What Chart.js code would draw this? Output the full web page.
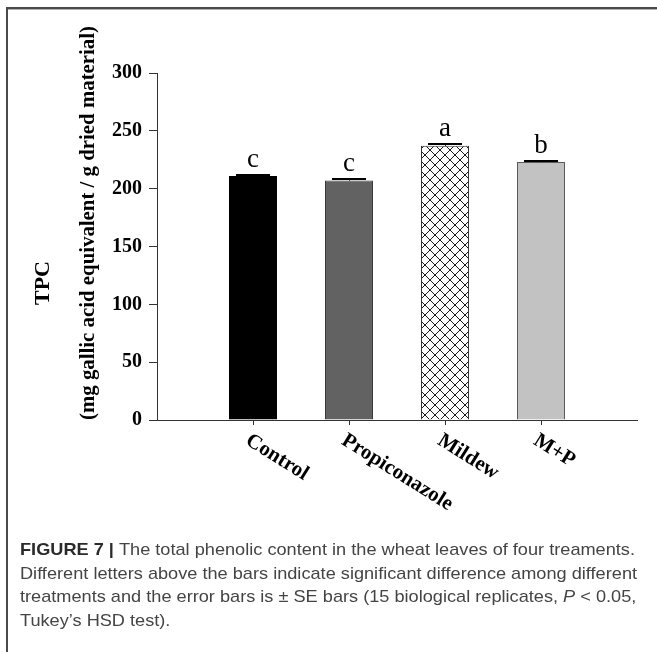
<!DOCTYPE html>
<html>
<head>
<meta charset="utf-8">
<script src="https://cdn.jsdelivr.net/npm/chart.js@4.4.1/dist/chart.umd.min.js"></script>
<style>
  html, body { margin: 0; padding: 0; background: #fff; overflow: hidden; }
  #wrap { position: relative; width: 657px; height: 652px; }
</style>
</head>
<body>
<div id="wrap"><canvas id="tpc" width="657" height="652"></canvas></div>
<script>
// Total phenolic content per treatment (mg GAE / g dried material)
const treatments = ['Control', 'Propiconazole', 'Mildew', 'M+P'];
const tpcMeans = [211, 207, 237, 223];
const tpcSE = [1, 1, 2, 1];
const groupLetters = ['c', 'c', 'a', 'b'];
const yTickValues = [0, 50, 100, 150, 200, 250, 300];

const yTitle = 'TPC';
const yUnits = '(mg gallic acid equivalent / g dried material)';

const captionLines = [
  [['b', 'FIGURE 7 | '], ['n', 'The total phenolic content in the wheat leaves of four treaments.']],
  [['n', 'Different letters above the bars indicate significant difference among different']],
  [['n', 'treatments and the error bars is \u00b1 SE bars (15 biological replicates, '], ['i', 'P'], ['n', ' < 0.05,']],
  [['n', 'Tukey\u2019s HSD test).']]
];

const SERIF = '"Liberation Serif", "Times New Roman", serif';
const SANS = '"Liberation Sans", Arial, sans-serif';

const cvs = document.getElementById('tpc');
const ctx0 = cvs.getContext('2d');

// Cross-hatched fill for the mildew bar
function crossHatch() {
  const s = 10;
  const t = document.createElement('canvas');
  t.width = s; t.height = s;
  const g = t.getContext('2d');
  g.fillStyle = '#ffffff';
  g.fillRect(0, 0, s, s);
  g.strokeStyle = '#1a1a1a';
  g.lineWidth = 1;
  g.beginPath();
  g.moveTo(-1, -1); g.lineTo(s + 1, s + 1);
  g.moveTo(s + 1, -1); g.lineTo(-1, s + 1);
  g.stroke();
  return ctx0.createPattern(t, 'repeat');
}

const barFills = ['#000000', '#626262', crossHatch(), '#c2c2c2'];
const barEdges = ['#000000', '#3a3a3a', '#333333', '#5a5a5a'];

const decorations = {
  id: 'decorations',
  beforeDraw(chart) {
    const c = chart.ctx;
    c.save();
    // figure frame
    c.fillStyle = '#4a4a4a';
    c.fillRect(6, 7, 651, 2);
    c.fillRect(6, 7, 2, 645);
    c.fillStyle = '#b0b0b0';
    c.fillRect(8, 9, 649, 1);
    c.restore();
  },
  afterDatasetsDraw(chart) {
    const c = chart.ctx;
    const xs = chart.scales.x, ys = chart.scales.y;
    c.save();
    treatments.forEach((name, i) => {
      const px = xs.getPixelForValue(i + 1);
      const top = ys.getPixelForValue(tpcMeans[i] + tpcSE[i]);
      const base = ys.getPixelForValue(tpcMeans[i]);
      c.strokeStyle = '#000';
      c.lineWidth = 1;
      c.beginPath();
      c.moveTo(px + 0.5, base);
      c.lineTo(px + 0.5, top);
      c.stroke();
      c.lineWidth = 2;
      c.beginPath();
      c.moveTo(px - 17, Math.round(top));
      c.lineTo(px + 17, Math.round(top));
      c.stroke();
      // significance letter
      c.fillStyle = '#000';
      c.font = '27px ' + SERIF;
      c.textAlign = 'center';
      c.textBaseline = 'alphabetic';
      c.fillText(groupLetters[i], px, top - 8);
    });
    c.restore();
  },
  afterDraw(chart) {
    const c = chart.ctx;
    const xs = chart.scales.x;
    c.save();
    c.fillStyle = '#000';
    // category labels, slanted downward
    c.font = 'bold 21px ' + SERIF;
    c.textAlign = 'left';
    c.textBaseline = 'top';
    treatments.forEach((name, i) => {
      const px = xs.getPixelForValue(i + 1);
      c.save();
      c.translate(px, 430);
      c.rotate(32 * Math.PI / 180);
      c.fillText(name, 0, 0);
      c.restore();
    });
    // y-axis titles
    c.textAlign = 'center';
    c.textBaseline = 'middle';
    c.save();
    c.translate(43, 283);
    c.rotate(-Math.PI / 2);
    c.font = 'bold 22px ' + SERIF;
    c.fillText(yTitle, 0, 0);
    c.restore();
    c.save();
    c.translate(89, 223);
    c.rotate(-Math.PI / 2);
    c.font = 'bold 21px ' + SERIF;
    c.fillText(yUnits, 0, 0, 394);
    c.restore();

    // caption
    const fonts = { b: 'bold 17px ' + SANS, n: '17px ' + SANS, i: 'italic 17px ' + SANS };
    const colors = { b: '#2a2a2a', n: '#444444', i: '#444444' };
    const lineWidthOf = segs => segs.reduce((w, s) => { c.font = fonts[s[0]]; return w + c.measureText(s[1]).width; }, 0);
    const sx = 615 / lineWidthOf(captionLines[0]);
    c.textAlign = 'left';
    c.textBaseline = 'alphabetic';
    captionLines.forEach((segs, li) => {
      c.save();
      c.translate(20, 555 + li * 23.5);
      c.scale(sx, 1);
      let x = 0;
      segs.forEach(s => {
        c.font = fonts[s[0]];
        c.fillStyle = colors[s[0]];
        c.fillText(s[1], x, 0);
        x += c.measureText(s[1]).width;
      });
      c.restore();
    });
    c.restore();
  }
};

new Chart(cvs, {
  type: 'bar',
  data: {
    datasets: [{
      data: tpcMeans.map((v, i) => ({ x: i + 1, y: v })),
      backgroundColor: barFills,
      borderColor: barEdges,
      borderWidth: 1,
      barPercentage: 0.5,
      categoryPercentage: 1
    }]
  },
  options: {
    responsive: false,
    devicePixelRatio: 1,
    animation: false,
    layout: { padding: { top: 73, right: 20, bottom: 0, left: 0 } },
    plugins: { legend: { display: false }, tooltip: { enabled: false } },
    scales: {
      x: {
        type: 'linear',
        min: 0,
        max: 5,
        offset: false,
        afterBuildTicks: s => { s.ticks = treatments.map((n, i) => ({ value: i + 1 })); },
        afterFit: s => { s.height = 232; },
        ticks: { display: false },
        grid: { display: true, drawOnChartArea: false, drawTicks: true, tickLength: 5, color: '#333', offset: false },
        border: { display: true, color: '#333', width: 1 }
      },
      y: {
        min: 0,
        max: 300,
        afterBuildTicks: s => { s.ticks = yTickValues.map(v => ({ value: v })); },
        afterFit: s => { s.width = 157; },
        ticks: {
          color: '#000',
          padding: 7,
          font: { family: SERIF, size: 20, weight: 'bold' }
        },
        grid: { display: true, drawOnChartArea: false, drawTicks: true, tickLength: 8, color: '#333' },
        border: { display: true, color: '#333', width: 1 }
      }
    }
  },
  plugins: [decorations]
});
</script>
</body>
</html>
